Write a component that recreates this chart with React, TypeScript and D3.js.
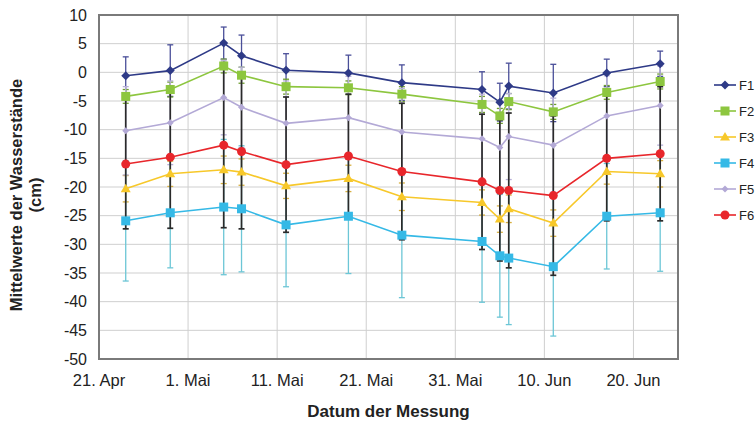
import React from "react";
import * as d3 from "d3";

const dates = ["2009-04-24","2009-04-29","2009-05-05","2009-05-07","2009-05-12","2009-05-19","2009-05-25","2009-06-03","2009-06-05","2009-06-06","2009-06-11","2009-06-17","2009-06-23"];
const seriesNames = ["F1","F2","F3","F4","F5","F6"];
const f1 = [-0.6,0.3,5.1,2.9,0.35,-0.1,-1.8,-3.0,-5.2,-2.4,-3.6,-0.1,1.5];
const f2 = [-4.2,-3.0,1.1,-0.5,-2.5,-2.7,-3.8,-5.6,-7.6,-5.1,-6.9,-3.5,-1.6];
const f3 = [-20.3,-17.7,-17.0,-17.4,-19.8,-18.5,-21.7,-22.7,-25.6,-23.8,-26.3,-17.3,-17.7];
const f4 = [-25.9,-24.5,-23.5,-23.8,-26.6,-25.1,-28.4,-29.5,-32.0,-32.4,-33.9,-25.1,-24.5];
const f5 = [-10.2,-8.8,-4.4,-6.1,-8.9,-7.9,-10.4,-11.6,-13.1,-11.2,-12.7,-7.6,-5.8];
const f6 = [-16.0,-14.8,-12.7,-13.8,-16.1,-14.6,-17.3,-19.1,-20.6,-20.6,-21.5,-15.0,-14.2];
const f1Err = [3.3,4.5,2.8,3.6,2.9,3.1,3.1,3.1,3.3,4.0,5.0,2.4,2.2];
const f2Err = [1.2,1.3,1.2,1.4,1.3,1.2,1.3,1.4,1.3,1.4,1.3,1.2,1.3];
const f3Err = [2.3,2.2,2.4,2.3,2.2,2.3,2.4,2.2,2.3,2.4,2.3,2.2,2.3];
const f4Err = [10.5,9.6,11.8,11.0,10.8,10.0,10.9,10.6,10.7,11.6,12.1,9.2,10.2];
const f5Err = [7.7,7.3,6.5,7.0,7.4,7.2,7.6,7.8,8.0,7.5,8.2,7.0,6.9];
const f6Err = [11.3,12.4,14.4,13.5,11.8,10.8,11.9,11.8,12.3,13.5,13.9,10.9,11.7];
const yTicks = [10,5,0,-5,-10,-15,-20,-25,-30,-35,-40,-45,-50];
const xTickDates = ["2009-04-21","2009-05-01","2009-05-11","2009-05-21","2009-05-31","2009-06-10","2009-06-20"];
const xTickLabels = ["21. Apr","1. Mai","11. Mai","21. Mai","31. Mai","10. Jun","20. Jun"];

const colors = ["#2e3a87","#8dc63f","#f7c82a","#35b9e6","#b3a9d6","#e8262b"];
const errColors = ["#4a4f99","#6f9e30","#d8b040","#6cc6d6","#b8b0d8","#2a2a2a"];
const markers = ["diamond","square","triangle","square","diamond-small","circle"];

const values = [f1,f2,f3,f4,f5,f6];
const errs = [f1Err,f2Err,f3Err,f4Err,f5Err,f6Err];

const parse = (s: string) => new Date(s + "T00:00:00Z");

function Marker({ type, x, y, color }: { type: string; x: number; y: number; color: string }) {
  if (type === "diamond") return <path d={`M${x},${y-4.5}L${x+4.5},${y}L${x},${y+4.5}L${x-4.5},${y}Z`} fill={color} />;
  if (type === "diamond-small") return <path d={`M${x},${y-3.5}L${x+3.5},${y}L${x},${y+3.5}L${x-3.5},${y}Z`} fill={color} />;
  if (type === "square") return <rect x={x-4.5} y={y-4.5} width={9} height={9} fill={color} />;
  if (type === "triangle") return <path d={`M${x},${y-5}L${x+5},${y+3.5}L${x-5},${y+3.5}Z`} fill={color} />;
  return <circle cx={x} cy={y} r={4.5} fill={color} />;
}

export default function App() {
  const W = 756, H = 423;
  const left = 99, right = 678, top = 15, bottom = 359;
  const x = d3.scaleUtc().domain([parse("2009-04-21"), parse("2009-06-25")]).range([left, right]);
  const y = d3.scaleLinear().domain([-50, 10]).range([bottom, top]);
  const xs = dates.map(parse);
  const line = d3.line<number>().x((_, i) => x(xs[i])).y((v) => y(v));
  const font = "Arial, 'Liberation Sans', sans-serif";
  const errOrder = [0, 1, 2, 4, 3, 5];

  return (
    <svg width={W} height={H} style={{ position: "absolute", left: 0, top: 0, background: "#fff" }} fontFamily={font}>
      {yTicks.filter((t) => t !== 10 && t !== -50).map((t) => (
        <line key={"gy" + t} x1={left} x2={right} y1={y(t)} y2={y(t)} stroke="#cfcfcf" strokeWidth={1} />
      ))}
      {xTickDates.slice(1).map((d) => (
        <line key={"gx" + d} x1={x(parse(d))} x2={x(parse(d))} y1={top} y2={bottom} stroke="#cfcfcf" strokeWidth={1} />
      ))}
      <rect x={left} y={top} width={right - left} height={bottom - top} fill="none" stroke="#7a7a7a" strokeWidth={2} />

      {errOrder.map((si) => (
        <g key={"e" + si} stroke={errColors[si]} strokeWidth={si === 5 ? 1.7 : 1.3}>
          {values[si].map((v, i) => {
            const cx = x(xs[i]);
            const y1 = y(v + errs[si][i]);
            const y2 = y(v - errs[si][i]);
            return (
              <g key={i}>
                <line x1={cx} x2={cx} y1={y1} y2={y2} />
                <line x1={cx - 3} x2={cx + 3} y1={y1} y2={y1} />
                <line x1={cx - 3} x2={cx + 3} y1={y2} y2={y2} />
              </g>
            );
          })}
        </g>
      ))}

      {values.map((vals, si) => (
        <path key={"l" + si} d={line(vals) || ""} fill="none" stroke={colors[si]} strokeWidth={1.6} />
      ))}
      {values.map((vals, si) => (
        <g key={"m" + si}>
          {vals.map((v, i) => (
            <Marker key={i} type={markers[si]} x={x(xs[i])} y={y(v)} color={colors[si]} />
          ))}
        </g>
      ))}

      {yTicks.map((t) => (
        <text key={"yt" + t} x={87} y={y(t)} dy="0.36em" textAnchor="end" fontSize={16} fill="#222">{t}</text>
      ))}
      {xTickDates.map((d, i) => (
        <text key={"xt" + d} x={x(parse(d))} y={386} textAnchor="middle" fontSize={16.5} fill="#222">{xTickLabels[i]}</text>
      ))}

      <text x={(left + right) / 2} y={417} textAnchor="middle" fontSize={17} fontWeight="bold" fill="#222">Datum der Messung</text>
      <g transform="translate(22,195) rotate(-90)">
        <text x={0} y={0} textAnchor="middle" fontSize={16.5} fontWeight="bold" fill="#222">Mittelwerte der Wasserstände</text>
        <text x={0} y={19} textAnchor="middle" fontSize={16.5} fontWeight="bold" fill="#222">(cm)</text>
      </g>

      {seriesNames.map((name, si) => {
        const ly = 85 + si * 26;
        return (
          <g key={"lg" + si}>
            <line x1={714} x2={736} y1={ly} y2={ly} stroke={colors[si]} strokeWidth={1.6} />
            <Marker type={markers[si]} x={725} y={ly} color={colors[si]} />
            <text x={739} y={ly} dy="0.36em" fontSize={13} fill="#222">{name}</text>
          </g>
        );
      })}
    </svg>
  );
}
